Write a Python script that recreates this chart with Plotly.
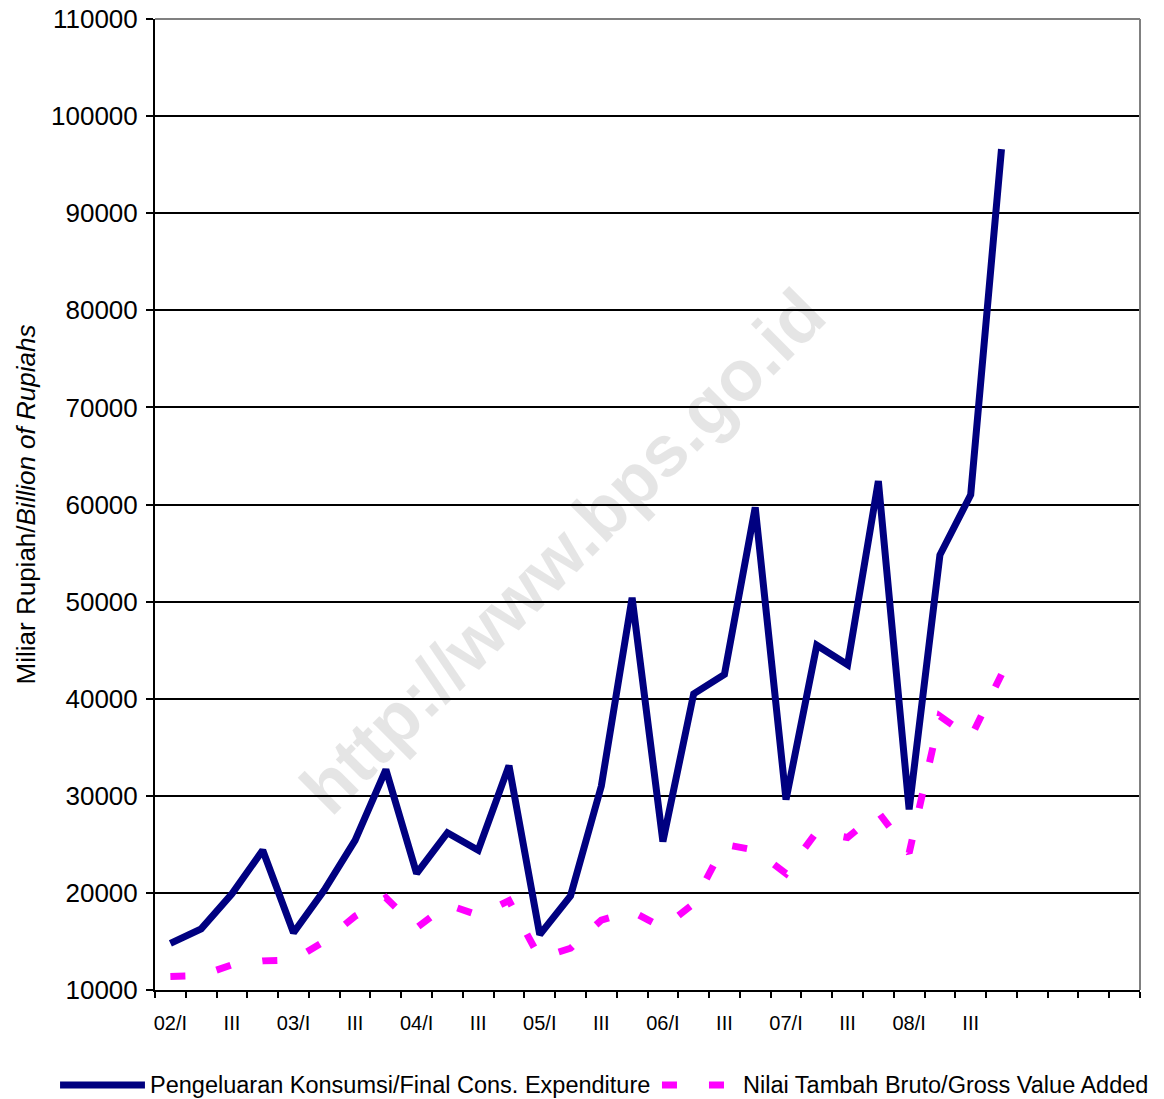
import plotly.graph_objects as go

# quarter labels 2002/I .. 2008/IV
quarters = ["02/I", "II", "III", "IV",
            "03/I", "II", "III", "IV",
            "04/I", "II", "III", "IV",
            "05/I", "II", "III", "IV",
            "06/I", "II", "III", "IV",
            "07/I", "II", "III", "IV",
            "08/I", "II", "III", "IV"]

# Pengeluaran Konsumsi / Final Cons. Expenditure (billion Rp)
consumption = [14800, 16300, 19900, 24400,
               15900, 20300, 25400, 32700,
               22000, 26200, 24400, 33100,
               15700, 19700, 31000, 50400,
               25300, 40500, 42500, 59700,
               29600, 45500, 43500, 62400,
               28600, 54800, 61000, 96600]

# Nilai Tambah Bruto / Gross Value Added (billion Rp)
value_added = [11400, 11500, 12600, 13000,
               13100, 15000, 17600, 19500,
               16400, 18800, 17700, 19200,
               13300, 14300, 17200, 18100,
               16400, 18900, 25000, 24400,
               22000, 26300, 25700, 28300,
               24100, 38200, 36000, 42500]

n_slots = 32  # axis keeps 4 empty quarters at the right
y_ticks = [10000, 20000, 30000, 40000, 50000, 60000,
           70000, 80000, 90000, 100000, 110000]

FONT = "Liberation Sans, Arial, sans-serif"
NAVY = "#000080"
PINK = "#ff00ff"
DASH = "15px,32px"

x = list(range(len(quarters)))

fig = go.Figure()

fig.add_trace(go.Scatter(
    x=x, y=consumption,
    mode="lines",
    name="Pengeluaran Konsumsi/Final Cons. Expenditure",
    line=dict(color=NAVY, width=7),
))

fig.add_trace(go.Scatter(
    x=x, y=value_added,
    mode="lines",
    name="Nilai Tambah Bruto/Gross Value Added",
    line=dict(color=PINK, width=7, dash=DASH),
))

# only I and III get a label
label_pos = [i for i in x if i % 2 == 0]

fig.update_xaxes(
    range=[-0.5, n_slots - 0.5],
    tickmode="array",
    tickvals=label_pos,
    ticktext=[quarters[i] for i in label_pos],
    ticks="",
    ticklabelstandoff=14,
    tickfont=dict(size=20, color="black", family=FONT),
    showline=True, linecolor="black", linewidth=2,
    showgrid=False, zeroline=False,
    automargin=False,
    minor=dict(
        tickmode="array",
        tickvals=[i - 0.5 for i in range(n_slots + 1)],
        ticks="outside", ticklen=6, tickwidth=2, tickcolor="black",
        showgrid=False,
    ),
)

fig.update_yaxes(
    range=[10000, 110000],
    tickmode="array",
    tickvals=y_ticks,
    tickformat="d",
    ticks="outside", ticklen=7, tickwidth=2, tickcolor="black",
    ticklabelstandoff=3,
    tickfont=dict(size=26, color="black", family=FONT),
    showline=True, linecolor="black", linewidth=2,
    showgrid=True, gridcolor="black", gridwidth=1.6,
    zeroline=False,
    automargin=False,
    title=dict(text="Miliar Rupiah/<i>Billion of Rupiahs</i>",
               font=dict(size=26, color="black", family=FONT),
               standoff=8),
)

# grey plot-area border on top and right
fig.add_shape(type="line", xref="paper", yref="paper",
              x0=0, y0=1, x1=1, y1=1,
              line=dict(color="#808080", width=2))
fig.add_shape(type="line", xref="paper", yref="paper",
              x0=1, y0=0, x1=1, y1=1,
              line=dict(color="#808080", width=2))

# watermark
fig.add_annotation(
    text="<b>http://www.bps.go.id</b>",
    xref="paper", yref="paper", x=0.414, y=0.452,
    textangle=-45, showarrow=False,
    font=dict(size=72, color="rgba(0,0,0,0.1)", family=FONT),
)

# legend row below the chart (drawn by hand to get the long line keys)
LEG_Y = -0.0978
legend_items = [
    (fig.data[0].name, NAVY, "solid", -0.0964, -0.0102, -0.0071),
    (fig.data[1].name, PINK, DASH, 0.5147, 0.5797, 0.5949),
]
for name, color, dash, kx0, kx1, tx in legend_items:
    fig.add_shape(type="line", xref="paper", yref="paper",
                  x0=kx0, y0=LEG_Y, x1=kx1, y1=LEG_Y,
                  line=dict(color=color, width=7, dash=dash))
    fig.add_annotation(text=name, xref="paper", yref="paper",
                       x=tx, y=LEG_Y, xanchor="left", yanchor="middle",
                       showarrow=False,
                       font=dict(size=23.5, color="black", family=FONT))

fig.update_layout(
    width=1164, height=1099,
    margin=dict(l=155, r=24, t=19, b=109, autoexpand=False),
    plot_bgcolor="white",
    paper_bgcolor="white",
    font=dict(family=FONT, color="black"),
    showlegend=False,
)

fig.write_html("out.html", config={"displayModeBar": False},
               post_script="document.body.style.margin='0';")
